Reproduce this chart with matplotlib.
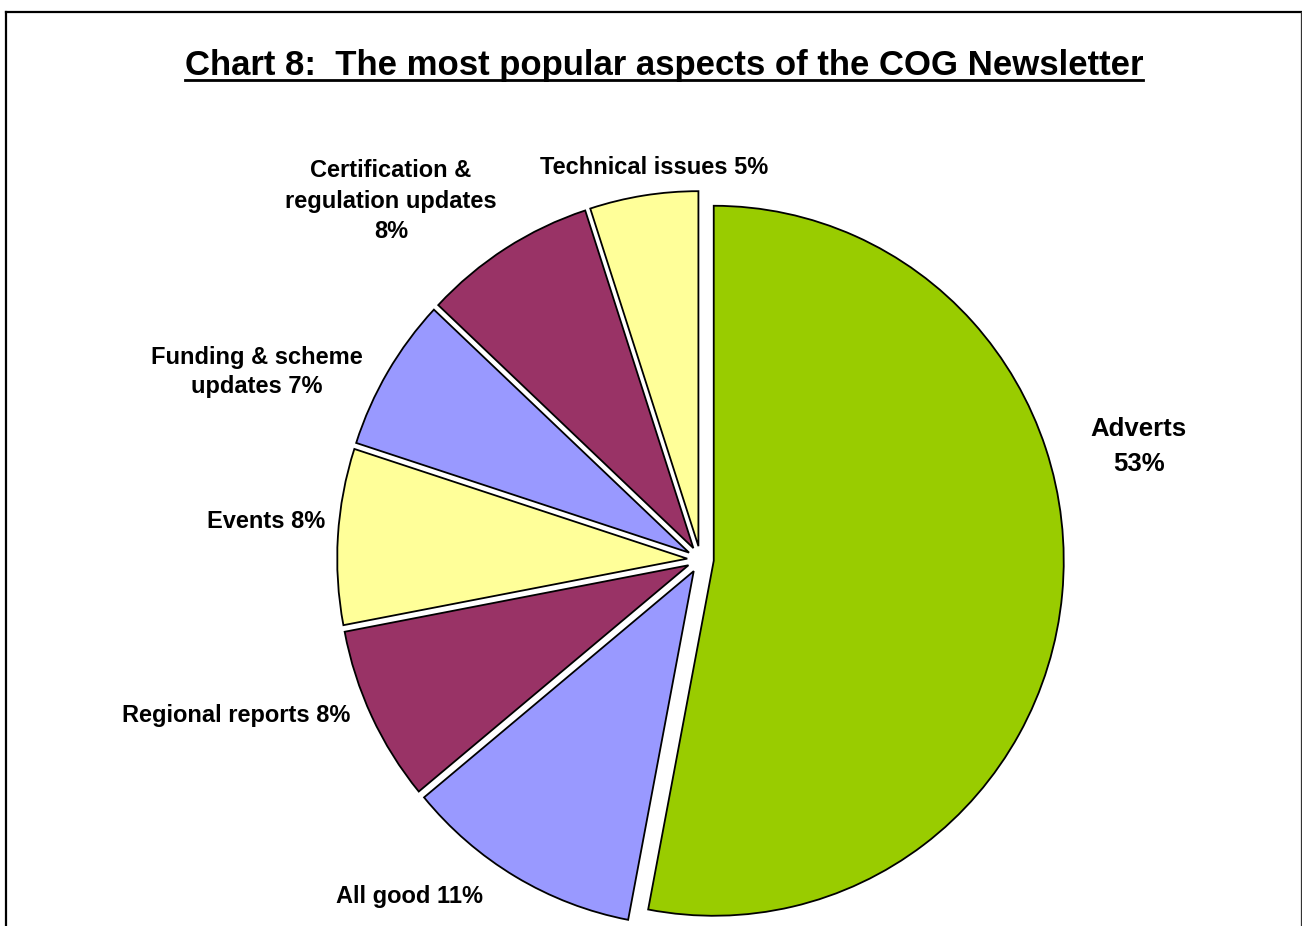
import matplotlib
matplotlib.use("Agg")
import matplotlib.pyplot as plt
from matplotlib.lines import Line2D

plt.rcParams['font.family'] = ['Liberation Sans', 'DejaVu Sans']

# Survey results: most popular aspects of the newsletter (percent)
categories = ["Adverts", "All good", "Regional reports", "Events",
              "Funding & scheme updates", "Certification & regulation updates",
              "Technical issues"]
values = [53, 11, 8, 8, 7, 8, 5]
colors = ["#99CC00", "#9999FF", "#993366", "#FFFF99",
          "#9999FF", "#993366", "#FFFF99"]

# How each label is broken into lines ({} receives the percentage)
label_lines = [
    ["Adverts", "{}%"],
    ["All good {}%"],
    ["Regional reports {}%"],
    ["Events {}%"],
    ["Funding & scheme", "updates {}%"],
    ["Certification &", "regulation updates", "{}%"],
    ["Technical issues {}%"],
]
title = "Chart 8:  The most popular aspects of the COG Newsletter"

W, H = 1302, 926
fig = plt.figure(figsize=(W / 100, H / 100), dpi=100)
fig.patch.set_facecolor("white")

# pie geometry in pixels
cx, cy = 700.5, 559.5
rx, ry = 350.0, 355.0
explode = [0.038] * len(values)

ax = fig.add_axes([0, 0, 1, 1])
wedges, _ = ax.pie(values, colors=colors, startangle=90, counterclock=False,
                   explode=explode, radius=1.0, center=(0, 0),
                   wedgeprops=dict(edgecolor="black", linewidth=1.3))
ax.set_aspect("auto")
ax.set_xlim(-cx / rx, (W - cx) / rx)
ax.set_ylim((cy - H) / ry, cy / ry)
ax.axis("off")


def px(x, y):
    return x / W, 1 - y / H


# label anchors: centre x, first baseline y, line step, font size
label_pos = [
    (1138.5, 435.7, 35.0, 18.5),
    (409.0, 903.0, 30.5, 17),
    (236.0, 721.7, 30.5, 17),
    (266.0, 527.7, 30.5, 17),
    (257.0, 364.0, 29.5, 17),
    (391.0, 177.3, 30.5, 17),
    (653.8, 174.3, 30.5, 17),
]
for lines, val, (lx, ly, step, fs) in zip(label_lines, values, label_pos):
    for i, ln in enumerate(lines):
        fig.text(*px(lx, ly + i * step), ln.format(val), ha="center",
                 va="baseline", fontsize=fs, fontweight="bold", color="black")

# underlined title
t = fig.text(*px(664, 75.5), title, ha="center", va="baseline",
             fontsize=25, fontweight="bold", color="black")
fig.canvas.draw()
bb = t.get_window_extent()
fig.add_artist(Line2D([bb.x0 / W, bb.x1 / W], [1 - 80 / H, 1 - 80 / H],
                      transform=fig.transFigure, color="black", linewidth=2.0))

# outer frame (open at the bottom)
fig.add_artist(Line2D([6 / W, 1300.5 / W], [1 - 11.5 / H, 1 - 11.5 / H],
                      transform=fig.transFigure, color="black", linewidth=1.6))
fig.add_artist(Line2D([6 / W, 6 / W], [1 - 11.5 / H, 0],
                      transform=fig.transFigure, color="black", linewidth=1.6))
fig.add_artist(Line2D([1300.5 / W, 1300.5 / W], [1 - 11.5 / H, 0],
                      transform=fig.transFigure, color="#333333", linewidth=0.9))

fig.savefig("out.png", dpi=100, facecolor="white")
